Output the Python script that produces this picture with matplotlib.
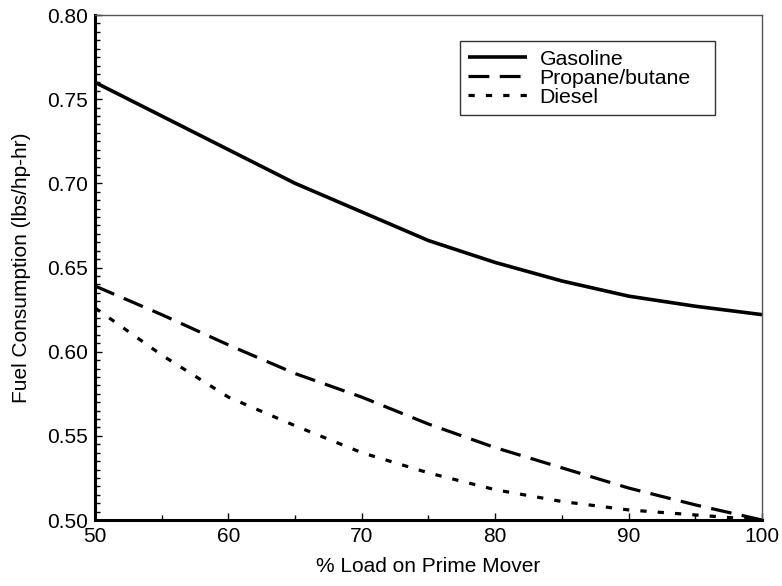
import matplotlib
matplotlib.use("Agg")
import matplotlib.pyplot as plt
from matplotlib.ticker import MultipleLocator, FormatStrFormatter

# Data
load_pct = [50, 55, 60, 65, 70, 75, 80, 85, 90, 95, 100]
gasoline = [0.760, 0.740, 0.720, 0.700, 0.683, 0.666, 0.653, 0.642, 0.633, 0.627, 0.622]
propane = [0.639, 0.622, 0.604, 0.587, 0.573, 0.557, 0.543, 0.531, 0.519, 0.509, 0.500]
diesel = [0.626, 0.598, 0.573, 0.556, 0.540, 0.528, 0.518, 0.511, 0.506, 0.503, 0.500]

plt.rcParams["font.family"] = ["Liberation Sans", "DejaVu Sans"]
plt.rcParams["lines.scale_dashes"] = False


def plot_data():
    fig = plt.figure(figsize=(7.82, 5.86), dpi=100)
    ax = fig.add_axes([0.1215, 0.1126, 0.8529, 0.8618])

    ax.plot(load_pct, gasoline, color="black", lw=2.6, solid_capstyle="butt", label="Gasoline")
    ax.plot(load_pct, propane, color="black", lw=2.3, dashes=(15, 7.5), label="Propane/butane")
    ax.plot(load_pct, diesel, color="black", lw=2.3, dashes=(4.5, 8), label="Diesel")

    ax.set_xlim(50, 100)
    ax.set_ylim(0.50, 0.80)
    ax.xaxis.set_major_locator(MultipleLocator(10))
    ax.xaxis.set_minor_locator(MultipleLocator(5))
    ax.yaxis.set_major_locator(MultipleLocator(0.05))
    ax.yaxis.set_minor_locator(MultipleLocator(0.005))
    ax.yaxis.set_major_formatter(FormatStrFormatter("%.2f"))

    ax.tick_params(which="both", direction="in", top=False, right=False,
                   labelsize=15, width=1, color="black")
    ax.tick_params(which="major", length=5, pad=5)
    ax.tick_params(which="minor", length=3.5)

    for side in ("left", "bottom"):
        ax.spines[side].set_linewidth(2.2)
        ax.spines[side].set_color("black")
    for side in ("top", "right"):
        ax.spines[side].set_linewidth(1.0)
        ax.spines[side].set_color("#555555")

    ax.set_xlabel("% Load on Prime Mover", fontsize=15, labelpad=8)
    ax.set_ylabel("Fuel Consumption (lbs/hp-hr)", fontsize=15, labelpad=12)

    # legend box stretched to the reference width
    leg = ax.legend(loc="upper left", bbox_to_anchor=(0.547, 0.804, 0.3825, 0.1445),
                    mode="expand", borderaxespad=0,
                    fontsize=15.3, handlelength=2.75, handletextpad=0.6,
                    labelspacing=0.0, borderpad=0.4, fancybox=False,
                    framealpha=1, edgecolor="#333333")
    leg.get_frame().set_linewidth(1.0)

    fig.savefig("out.png", dpi=100)


if __name__ == "__main__":
    plot_data()
